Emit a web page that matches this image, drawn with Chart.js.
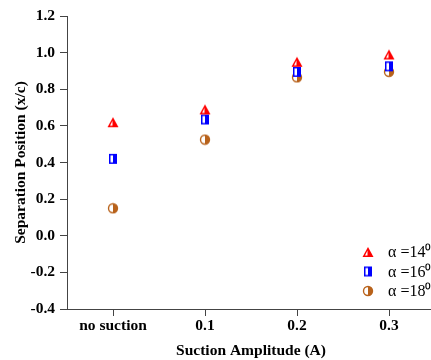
<!DOCTYPE html>
<html>
<head>
<meta charset="utf-8">
<script src="https://cdn.jsdelivr.net/npm/chart.js@4.4.1/dist/chart.umd.min.js"></script>
<style>
  html, body { margin: 0; padding: 0; background: #fff; overflow: hidden; }
  /* o eixo x do original passa um pouco da borda direita */
  #wrap { width: 435px; height: 360px; position: relative; }
</style>
</head>
<body>
<div id="wrap"><canvas id="chart"></canvas></div>
<script>
// dados
const categories = ['no suction', '0.1', '0.2', '0.3'];
const alpha14 = [0.62, 0.69, 0.95, 0.99];
const alpha16 = [0.42, 0.635, 0.895, 0.925];
const alpha18 = [0.15, 0.525, 0.865, 0.895];
const seriesLabels = ['\u03b1 =14\u2070', '\u03b1 =16\u2070', '\u03b1 =18\u2070'];
const yTicks = [-0.4, -0.2, 0.0, 0.2, 0.4, 0.6, 0.8, 1.0, 1.2];

const RED = '#ff0000';
const BLUE = '#0000ff';
const BROWN = '#b8621b';

// marcador meio preenchido (metade esquerda branca)
function makeMarker(shape, color) {
    const s = 12;
    const c = document.createElement('canvas');
    c.width = s; c.height = s;
    const g = c.getContext('2d');
    function path() {
        g.beginPath();
        if (shape === 'triangle') {
            g.moveTo(s / 2, 1); g.lineTo(s - 0.5, s - 1); g.lineTo(0.5, s - 1); g.closePath();
        } else if (shape === 'rect') {
            g.rect(2, 1, s - 4, s - 2);
        } else {
            g.arc(s / 2, s / 2, s / 2 - 0.8, 0, Math.PI * 2);
        }
    }
    path();
    g.fillStyle = color; g.fill();
    g.save();
    path(); g.clip();
    g.fillStyle = '#fff';
    if (shape === 'triangle') {
        g.beginPath();
        g.moveTo(s / 2 - 0.5, 4.5); g.lineTo(s / 2 - 0.5, s - 2.5); g.lineTo(3, s - 2.5); g.closePath();
        g.fill();
    } else if (shape === 'rect') {
        g.fillRect(3.5, 2.5, (s - 4) / 2 - 1.5, s - 5);
    } else {
        g.beginPath();
        g.arc(s / 2, s / 2, s / 2 - 2.2, Math.PI / 2, Math.PI * 1.5);
        g.closePath(); g.fill();
    }
    g.restore();
    return c;
}

const markers = [makeMarker('triangle', RED), makeMarker('rect', BLUE), makeMarker('circle', BROWN)];

// legenda dentro da área do gráfico, canto inferior direito
const legendInside = {
    id: 'legendInside',
    afterDraw(chart) {
        const ctx = chart.ctx;
        const area = chart.chartArea;
        ctx.save();
        ctx.font = '16px "Liberation Serif"';
        ctx.fillStyle = '#000';
        ctx.textBaseline = 'middle';
        for (let i = 0; i < seriesLabels.length; i++) {
            const y = area.bottom - 57 + i * 19.5;
            const x = area.right - 67;
            ctx.drawImage(markers[i], x - 6, y - 6);
            ctx.fillText(seriesLabels[i], x + 20, y + 1);
        }
        ctx.restore();
    }
};

const tickFont = { family: '"Liberation Serif"', size: 15.5, weight: 'bold' };

new Chart(document.getElementById('chart'), {
    type: 'line',
    data: {
        labels: categories,
        datasets: [
            { label: seriesLabels[0], data: alpha14, pointStyle: markers[0] },
            { label: seriesLabels[1], data: alpha16, pointStyle: markers[1] },
            { label: seriesLabels[2], data: alpha18, pointStyle: markers[2] }
        ].map(d => ({ ...d, showLine: false, pointRadius: 6, pointHoverRadius: 6 }))
    },
    options: {
        responsive: true,
        maintainAspectRatio: false,
        animation: false,
        layout: { autoPadding: false, padding: { top: 16, right: 0, left: 12, bottom: 0 } },
        plugins: { legend: { display: false }, tooltip: { enabled: false } },
        scales: {
            x: {
                type: 'category',
                offset: true,
                grid: { display: true, drawOnChartArea: false, tickLength: 7, color: '#444', offset: false },
                border: { color: '#444', width: 1 },
                ticks: { font: tickFont, color: '#000', padding: 1, maxRotation: 0 },
                title: { display: true, text: 'Suction Amplitude (A)', font: tickFont, color: '#000', padding: 0 },
                afterFit(scale) {
                    scale.height = 51;
                    scale.paddingLeft = 0;
                    scale.paddingRight = 0;
                }
            },
            y: {
                min: -0.4,
                max: 1.2,
                afterBuildTicks(scale) { scale.ticks = yTicks.map(v => ({ value: v })); },
                grid: { display: true, drawOnChartArea: false, tickLength: 7, color: '#444' },
                border: { color: '#444', width: 1 },
                ticks: { font: tickFont, color: '#000', padding: 5, callback: v => v.toFixed(1) },
                title: { display: true, text: 'Separation Position (x/c)', font: tickFont, color: '#000', padding: 0 },
                afterFit(scale) {
                    scale.width = 55;
                    scale.paddingTop = 0;
                    scale.paddingBottom = 0;
                }
            }
        }
    },
    plugins: [legendInside]
});
</script>
</body>
</html>
